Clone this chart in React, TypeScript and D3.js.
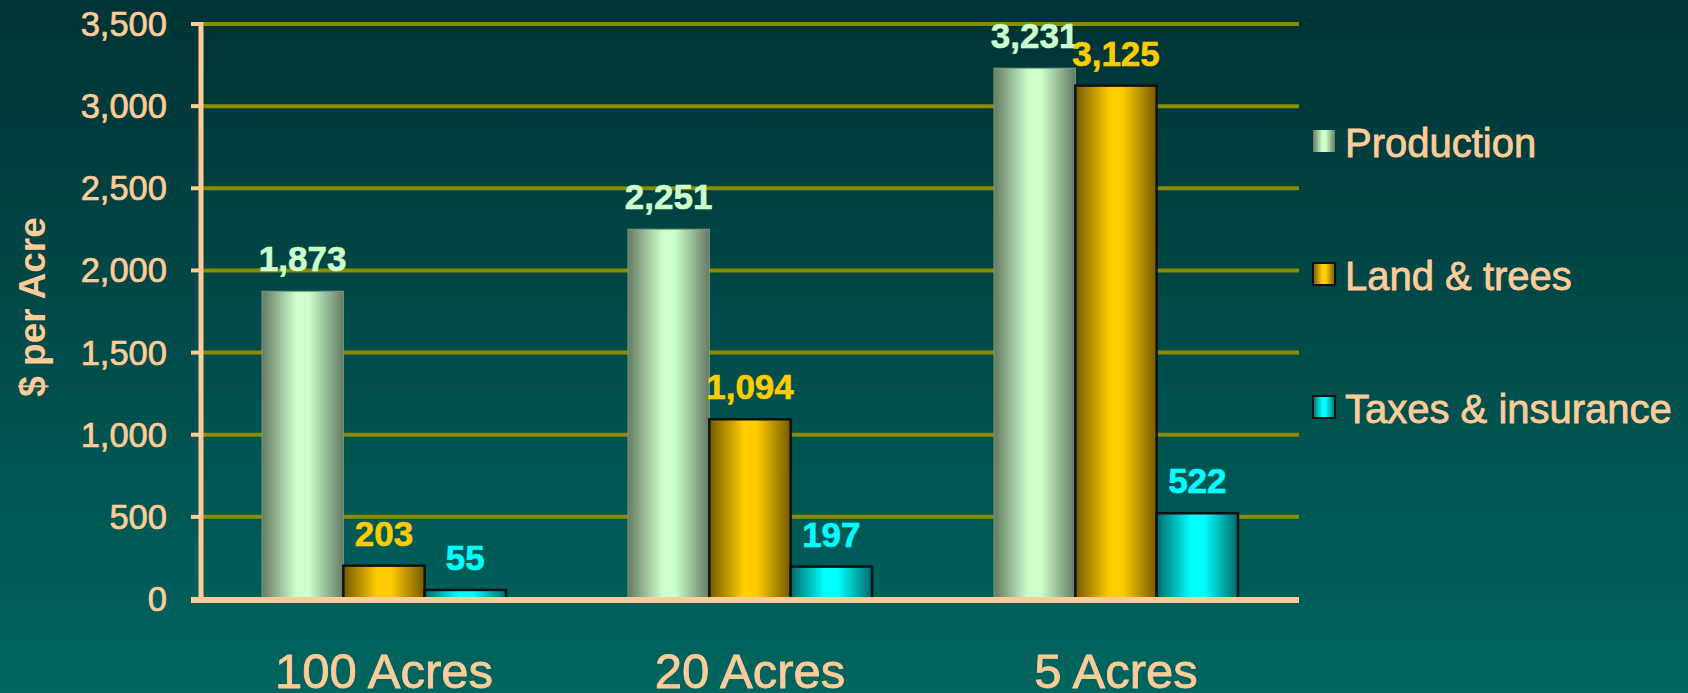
import React from "react";
import * as d3 from "d3";

const categories = ["100 Acres", "20 Acres", "5 Acres"];
const seriesNames = ["Production", "Land & trees", "Taxes & insurance"];
const production = [1873, 2251, 3231];
const landTrees = [203, 1094, 3125];
const taxesInsurance = [55, 197, 522];
const yTicks = [0, 500, 1000, 1500, 2000, 2500, 3000, 3500];

const seriesValues = [production, landTrees, taxesInsurance];
const seriesStyle = [
  { id: "gProd", dark: "#647a62", light: "#ccffcc", label: "#ccffcc", stroke: "none" },
  { id: "gLand", dark: "#745a00", light: "#ffcc00", label: "#ffcc00", stroke: "#111" },
  { id: "gTax", dark: "#006a6a", light: "#00ffff", label: "#00ffff", stroke: "#111" },
];

const W = 1688;
const H = 693;
const left = 201;
const right = 1299;
const top = 24;
const bottom = 599;
const peach = "#ffcc99";
const font = "'Liberation Sans', Arial, sans-serif";

export default function App() {
  const x = d3.scaleBand<string>().domain(categories).range([left, right]).padding(0);
  const bw = x.bandwidth();
  const barW = bw / 4.5;
  const inner = d3
    .scaleBand<number>()
    .domain([0, 1, 2])
    .range([barW * 0.75, barW * 3.75])
    .padding(0);
  const y = d3.scaleLinear().domain([0, 3500]).range([bottom, top]);
  const fmt = d3.format(",");

  return (
    <svg
      width={W}
      height={H}
      style={{ position: "absolute", left: 0, top: 0, display: "block" }}
    >
      <defs>
        <linearGradient id="bg" x1="0" y1="0" x2="0" y2="1">
          <stop offset="0" stopColor="#003335" />
          <stop offset="1" stopColor="#00655f" />
        </linearGradient>
        {seriesStyle.map((s) => (
          <linearGradient key={s.id} id={s.id} x1="0" y1="0" x2="1" y2="0">
            <stop offset="0" stopColor={s.dark} />
            <stop offset="0.42" stopColor={s.light} />
            <stop offset="0.58" stopColor={s.light} />
            <stop offset="1" stopColor={s.dark} />
          </linearGradient>
        ))}
      </defs>
      <rect x={0} y={0} width={W} height={H} fill="url(#bg)" />

      {/* gridlines */}
      {yTicks.slice(1).map((t) => (
        <line
          key={"g" + t}
          x1={left}
          x2={right}
          y1={y(t)}
          y2={y(t)}
          stroke="#8c8c00"
          strokeWidth={4}
        />
      ))}

      {/* bars */}
      {categories.map((c, ci) => (
        <g key={c}>
          {seriesValues.map((vals, si) => {
            const bx = (x(c) as number) + (inner(si) as number);
            const by = y(vals[ci]);
            const st = seriesStyle[si];
            return (
              <g key={si}>
                <rect
                  x={bx}
                  y={by}
                  width={inner.bandwidth()}
                  height={bottom - by}
                  fill={`url(#${st.id})`}
                  stroke={st.stroke === "none" ? "#7f9a7f" : st.stroke}
                  strokeWidth={st.stroke === "none" ? 1 : 2.5}
                />
                <text
                  x={bx + inner.bandwidth() / 2}
                  y={by - 20}
                  textAnchor="middle"
                  fontFamily={font}
                  fontWeight="bold"
                  fontSize={35}
                  fill={st.label}
                  stroke={st.label}
                  strokeWidth={0.6}
                >
                  {fmt(vals[ci])}
                </text>
              </g>
            );
          })}
        </g>
      ))}

      {/* y axis */}
      <line x1={left} x2={left} y1={top - 2} y2={bottom + 2} stroke={peach} strokeWidth={5} />
      {yTicks.map((t) => (
        <g key={"t" + t}>
          <line x1={191} x2={left} y1={y(t)} y2={y(t)} stroke={peach} strokeWidth={4} />
          <text
            x={167}
            y={y(t) + 12}
            textAnchor="end"
            fontFamily={font}
            fontSize={34.5}
            fill={peach}
            stroke={peach}
            strokeWidth={0.7}
          >
            {fmt(t)}
          </text>
        </g>
      ))}
      {/* x axis */}
      <line x1={191} x2={right} y1={bottom + 1} y2={bottom + 1} stroke={peach} strokeWidth={6} />

      {/* category labels */}
      {categories.map((c) => (
        <text
          key={"c" + c}
          x={(x(c) as number) + bw / 2}
          y={688}
          textAnchor="middle"
          fontFamily={font}
          fontSize={49}
          fill={peach}
          stroke={peach}
          strokeWidth={0.8}
        >
          {c}
        </text>
      ))}

      {/* y title */}
      <text
        transform={`translate(45, 307) rotate(-90)`}
        textAnchor="middle"
        fontFamily={font}
        fontWeight="bold"
        fontSize={37}
        fill={peach}
      >
        $ per Acre
      </text>

      {/* legend */}
      {seriesNames.map((n, i) => {
        const ly = 157 + i * 133;
        const st = seriesStyle[i];
        return (
          <g key={n}>
            <rect
              x={1313}
              y={ly - 27}
              width={22}
              height={22}
              fill={`url(#${st.id})`}
              stroke={st.stroke === "none" ? "none" : "#111"}
              strokeWidth={2}
            />
            <text
              x={1345}
              y={ly}
              fontFamily={font}
              fontSize={40}
              fill={peach}
              stroke={peach}
              strokeWidth={0.8}
            >
              {n}
            </text>
          </g>
        );
      })}
    </svg>
  );
}
